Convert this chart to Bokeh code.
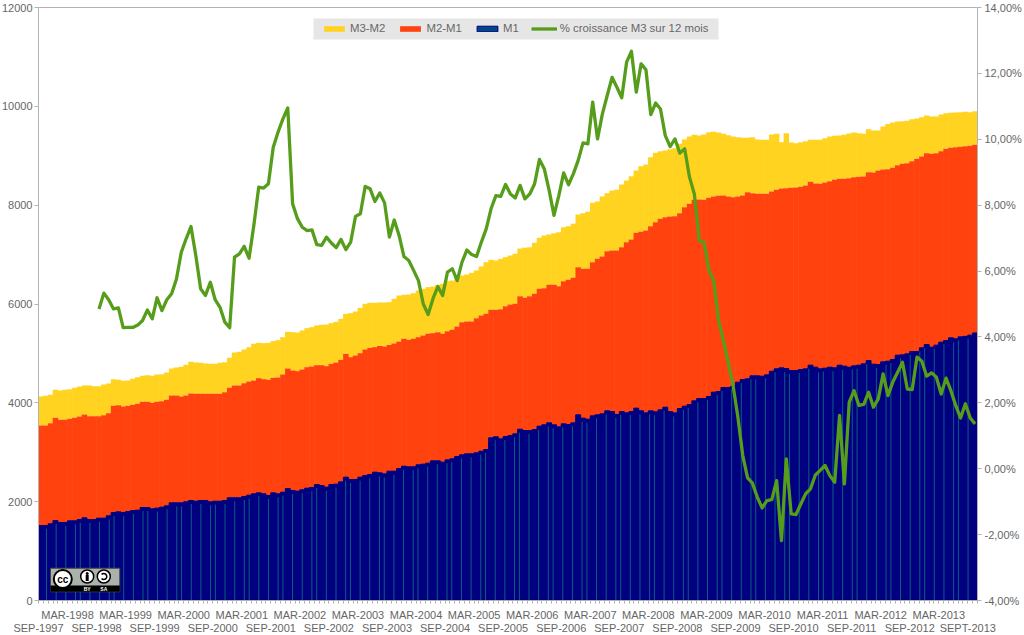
from bokeh.plotting import figure
from bokeh.embed import file_html
from bokeh.resources import INLINE
from bokeh.models import (Range1d, LinearAxis, FixedTicker, Legend, LegendItem, ColumnDataSource, Label)

m1 = [
 1518,1518,1552,1619,1579,1579,1612,1612,1639,1673,
 1639,1639,1666,1666,1713,1781,1794,1781,1801,1821,
 1828,1882,1882,1855,1869,1889,1916,1976,1976,1976,
 1997,2024,2010,2024,2024,1997,2010,2010,2024,2078,
 2078,2078,2105,2132,2159,2179,2159,2125,2179,2159,
 2192,2266,2226,2213,2240,2273,2287,2347,2327,2293,
 2347,2354,2401,2496,2449,2449,2496,2530,2550,2597,
 2583,2563,2617,2617,2671,2718,2705,2705,2745,2759,
 2779,2826,2826,2799,2846,2867,2914,2948,2968,2968,
 2988,3022,3055,3291,3312,3271,3318,3339,3372,3467,
 3440,3440,3460,3528,3555,3595,3555,3514,3575,3561,
 3595,3757,3689,3669,3737,3757,3777,3838,3824,3764,
 3824,3797,3824,3892,3838,3797,3838,3818,3858,3912,
 3824,3797,3885,3932,3966,4040,4087,4087,4128,4216,
 4229,4310,4310,4337,4418,4472,4485,4546,4546,4539,
 4566,4640,4688,4708,4694,4654,4654,4674,4688,4762,
 4721,4688,4701,4721,4708,4762,4742,4721,4748,4762,
 4789,4856,4782,4775,4829,4843,4877,4964,4971,4991,
 5038,5038,5113,5180,5126,5167,5228,5261,5315,5295,
 5335,5345,5370,5415]

m2 = [
 3542,3542,3589,3697,3656,3656,3677,3697,3724,3764,
 3730,3730,3730,3751,3791,3940,3953,3926,3940,3960,
 3980,4021,4021,4000,4021,4034,4061,4149,4149,4128,
 4149,4189,4182,4182,4182,4182,4182,4182,4216,4304,
 4351,4351,4398,4432,4452,4499,4479,4466,4506,4513,
 4574,4695,4655,4641,4675,4722,4736,4762,4762,4742,
 4789,4816,4870,4992,4924,4958,5005,5080,5113,5127,
 5150,5140,5170,5200,5240,5295,5275,5295,5329,5363,
 5396,5410,5430,5396,5450,5477,5545,5632,5646,5646,
 5713,5767,5801,5882,5882,5896,5956,5990,6004,6159,
 6125,6159,6206,6307,6321,6388,6388,6361,6462,6489,
 6530,6745,6712,6712,6847,6914,6961,7069,7083,7083,
 7150,7251,7305,7440,7460,7487,7575,7656,7723,7757,
 7771,7777,7838,7960,8027,8108,8115,8108,8148,8175,
 8189,8195,8175,8162,8175,8195,8263,8243,8229,8229,
 8229,8276,8310,8337,8344,8350,8357,8371,8398,8472,
 8438,8431,8458,8485,8512,8533,8533,8546,8566,8573,
 8580,8667,8661,8701,8721,8728,8755,8809,8836,8850,
 8890,8937,8985,9052,9038,9052,9092,9140,9160,9173,
 9180,9194,9200,9221]

m3 = [
 4128,4142,4162,4263,4250,4263,4277,4304,4331,4351,
 4351,4338,4338,4371,4392,4479,4466,4445,4452,4486,
 4520,4547,4560,4547,4574,4580,4614,4695,4715,4729,
 4769,4830,4816,4810,4796,4789,4789,4810,4823,4911,
 5019,5032,5080,5127,5194,5214,5208,5214,5248,5268,
 5329,5437,5430,5423,5464,5511,5531,5565,5579,5585,
 5612,5639,5700,5801,5815,5848,5920,6004,6024,6024,
 6031,6031,6037,6105,6172,6186,6192,6219,6273,6307,
 6341,6354,6388,6408,6462,6475,6530,6577,6597,6631,
 6678,6759,6847,6894,6880,6914,6948,6981,7015,7123,
 7137,7150,7238,7339,7386,7406,7433,7454,7555,7575,
 7622,7811,7838,7865,8047,8074,8175,8243,8297,8310,
 8418,8499,8587,8701,8789,8823,8971,9059,9093,9106,
 9133,9153,9241,9329,9389,9423,9410,9430,9477,9484,
 9470,9443,9416,9389,9376,9362,9362,9376,9328,9322,
 9322,9430,9443,9275,9457,9268,9254,9275,9295,9322,
 9322,9322,9355,9389,9403,9409,9423,9450,9470,9457,
 9443,9538,9511,9511,9592,9645,9672,9693,9699,9706,
 9740,9753,9780,9814,9794,9794,9834,9861,9868,9875,
 9882,9888,9882,9902]

growth_start = 12
growth = [
 4.85,5.33,5.13,4.85,4.88,4.28,4.29,4.29,4.36,4.50,
 4.82,4.55,5.19,4.80,5.13,5.31,5.76,6.57,6.98,7.35,
 6.47,5.46,5.26,5.66,5.13,4.90,4.45,4.28,6.42,6.52,
 6.75,6.39,7.40,8.55,8.52,8.65,9.76,10.22,10.62,10.95,
 8.04,7.59,7.33,7.23,7.25,6.80,6.78,7.03,6.85,6.71,
 6.96,6.65,6.88,7.66,7.74,8.57,8.50,8.11,8.37,8.07,
 7.03,7.55,7.08,6.44,6.32,6.02,5.71,5.00,4.68,5.16,
 5.53,5.26,5.97,6.07,5.71,6.27,6.64,6.50,6.44,6.88,
 7.28,7.89,8.29,8.27,8.63,8.34,8.22,8.60,8.19,8.34,
 8.65,9.39,9.10,8.45,7.69,8.29,8.98,8.62,8.95,9.36,
 9.89,9.86,11.13,10.01,10.77,11.33,11.88,11.58,11.26,12.34,
 12.67,11.43,12.29,12.11,10.75,11.10,10.92,10.11,9.78,10.01,
 9.58,9.71,8.85,8.34,6.93,6.87,6.02,5.71,4.50,3.89,
 3.22,2.53,1.56,0.40,-0.28,-0.44,-0.86,-1.19,-0.97,-0.94,
 -0.36,-2.18,0.30,-1.37,-1.39,-1.07,-0.76,-0.61,-0.19,-0.05,
 0.10,-0.21,-0.41,1.62,-0.46,2.02,2.37,1.92,1.95,2.32,
 1.87,2.12,2.88,2.22,2.63,2.93,3.23,2.42,2.40,3.39,
 3.26,2.81,2.91,2.78,2.27,2.75,2.37,1.92,1.54,1.97,
 1.54,1.36]

sep_labels = ["SEP-1997","SEP-1998","SEP-1999","SEP-2000","SEP-2001","SEP-2002","SEP-2003","SEP-2004",
              "SEP-2005","SEP-2006","SEP-2007","SEP-2008","SEP-2009","SEP-2010","SEP-2011","SEP-2012","SEPT-2013"]
mar_labels = ["MAR-1998","MAR-1999","MAR-2000","MAR-2001","MAR-2002","MAR-2003","MAR-2004","MAR-2005",
              "MAR-2006","MAR-2007","MAR-2008","MAR-2009","MAR-2010","MAR-2011","MAR-2012","MAR-2013"]
y_ticks = [0,2000,4000,6000,8000,10000,12000]
pct_ticks = [-4,-2,0,2,4,6,8,10,12,14]

assert len(m1) == len(m2) == len(m3) == 194, (len(m1), len(m2), len(m3))
assert len(growth) == 182, len(growth)

FONT = "Liberation Sans"
GREY = "#666666"
AXIS = "#b3b3b3"
n = len(m1)
months = list(range(n))

# Plot frame in image pixels: x 38..977, y 7..600. The -8 margin cancels the page margin.
p = figure(frame_width=939, frame_height=593, output_backend="svg", toolbar_location=None,
           x_range=Range1d(-0.5, n - 0.5), y_range=Range1d(0, 12000),
           min_border_left=46, min_border_right=47, min_border_top=15, min_border_bottom=35,
           x_axis_type=None, y_axis_type=None, background_fill_color="white")
p.margin = (-8, 0, 0, -8)
p.grid.visible = False
p.outline_line_color = AXIS
p.extra_y_ranges = {"pct": Range1d(-4, 14)}

def X(px): return (px - 38) / 939 * n - 0.5
def Y(py): return (600 - py) / 593 * 12000

src = ColumnDataSource(dict(x=months, m1=m1, m2=m2, m3=m3))
r3 = p.vbar(x="x", bottom="m2", top="m3", width=1.12, source=src, fill_color="#FFD320", line_color=None)
r2 = p.vbar(x="x", bottom="m1", top="m2", width=1.12, source=src, fill_color="#FF420E", line_color=None)
r1b = p.vbar(x="x", bottom=0, top="m1", width=1.0, source=src, fill_color="#004586", line_color="#000080", line_width=1)
p.vbar(x="x", bottom=0, top="m1", width=1.04, source=src, fill_color="#000080", line_color=None)

# thin lighter slits in the navy bars, recurring in a 2-2-2-1 bar rhythm
slit_k = [k for k in range(n - 1) if k % 7 in (0, 2, 4, 6)]
p.segment(x0=[X(46 + 4.825 * k) for k in slit_k], x1=[X(46 + 4.825 * k) for k in slit_k],
          y0=[0] * len(slit_k), y1=[m1[k + 1] - 70 for k in slit_k], line_color="#0d5c80", line_width=1)

rl = p.line(months[growth_start:], growth, y_range_name="pct", line_color="#579D1C", line_width=3.3, line_join="round")

# axes
left = LinearAxis(ticker=FixedTicker(ticks=y_ticks))
right = LinearAxis(y_range_name="pct", ticker=FixedTicker(ticks=pct_ticks),
                   major_label_overrides={t: f"{t},00%" for t in pct_ticks})
for ax, standoff in ((left, 2), (right, 3)):
    ax.axis_line_color = AXIS
    ax.major_tick_line_color = AXIS
    ax.major_tick_out = 4
    ax.major_tick_in = 0
    ax.minor_tick_line_color = None
    ax.major_label_text_font = FONT
    ax.major_label_text_font_size = "11px"
    ax.major_label_text_color = GREY
    ax.major_label_standoff = standoff
p.add_layout(left, "left")
p.add_layout(right, "right")

mar_pos = [i - 0.5 for i in range(6, n, 12)][:len(mar_labels)]
sep_pos = [i - 0.5 for i in range(0, n, 12)][:len(sep_labels)]
bottom1 = LinearAxis(ticker=FixedTicker(ticks=mar_pos, minor_ticks=[i - 0.5 for i in range(n + 1)]),
                     major_label_overrides=dict(zip(mar_pos, mar_labels)))
bottom2 = LinearAxis(ticker=FixedTicker(ticks=sep_pos), major_label_overrides=dict(zip(sep_pos, sep_labels)))
for ax in (bottom1, bottom2):
    ax.axis_line_color = AXIS if ax is bottom1 else None
    ax.major_tick_line_color = None
    ax.major_tick_out = 0
    ax.major_tick_in = 0
    ax.minor_tick_line_color = AXIS if ax is bottom1 else None
    ax.minor_tick_out = 3
    ax.minor_tick_in = 0
    ax.major_label_text_font = FONT
    ax.major_label_text_font_size = "11px"
    ax.major_label_text_color = GREY
bottom1.major_label_standoff = 5
bottom2.major_label_standoff = -2
p.add_layout(bottom1, "below")
p.add_layout(bottom2, "below")

# badge and legend backdrop, placed from image pixels
p.quad(left=[X(313)], right=[X(718)], top=[Y(18)], bottom=[Y(39)], fill_color="#e6e6e6", line_color=None)
p.quad(left=[X(50)], right=[X(119.3)], top=[Y(567.7)], bottom=[Y(591.3)], fill_color="#aab2ab", line_color="#444444", line_width=1)
p.quad(left=[X(50)], right=[X(119.3)], top=[Y(585)], bottom=[Y(591.3)], fill_color="#000000", line_color=None)
p.scatter([X(62.3)], [Y(578.5)], size=18, fill_color="white", line_color="black", line_width=2)
p.scatter([X(86.7), X(103.3)], [Y(576), Y(576)], size=13, fill_color="white", line_color="black", line_width=1.5)
p.scatter([X(86.7)], [Y(573)], size=3, fill_color="black", line_color=None)
p.rect([X(86.7)], [Y(577.5)], width=3, height=6, width_units="screen", height_units="screen", fill_color="black", line_color=None)
p.arc([X(103.3)], [Y(576)], radius=3, radius_units="screen", start_angle=-2.4, end_angle=2.4, line_color="black", line_width=1.5)
for txt, px, py, size, col in (("cc", 62.3, 578.5, "10px", "black"), ("BY", 86.7, 588.3, "5px", "white"), ("SA", 103.3, 588.3, "5px", "white")):
    p.add_layout(Label(x=X(px), y=Y(py), text=txt, text_align="center", text_baseline="middle", text_font=FONT,
                       text_font_style="bold", text_font_size=size, text_color=col))

legend = Legend(items=[LegendItem(label="M3-M2", renderers=[r3]), LegendItem(label="M2-M1", renderers=[r2]),
                       LegendItem(label="M1", renderers=[r1b]), LegendItem(label="% croissance M3 sur 12 mois", renderers=[rl])],
                orientation="horizontal", location=(283, 566), background_fill_alpha=0,
                border_line_color=None, glyph_width=26, glyph_height=7, label_standoff=3, spacing=12,
                padding=0, margin=0, label_text_font=FONT, label_text_font_size="11.4px", label_text_color=GREY,
                label_height=11, label_width=10)
p.add_layout(legend, "center")

open("out.html", "w").write(file_html(p, INLINE))
